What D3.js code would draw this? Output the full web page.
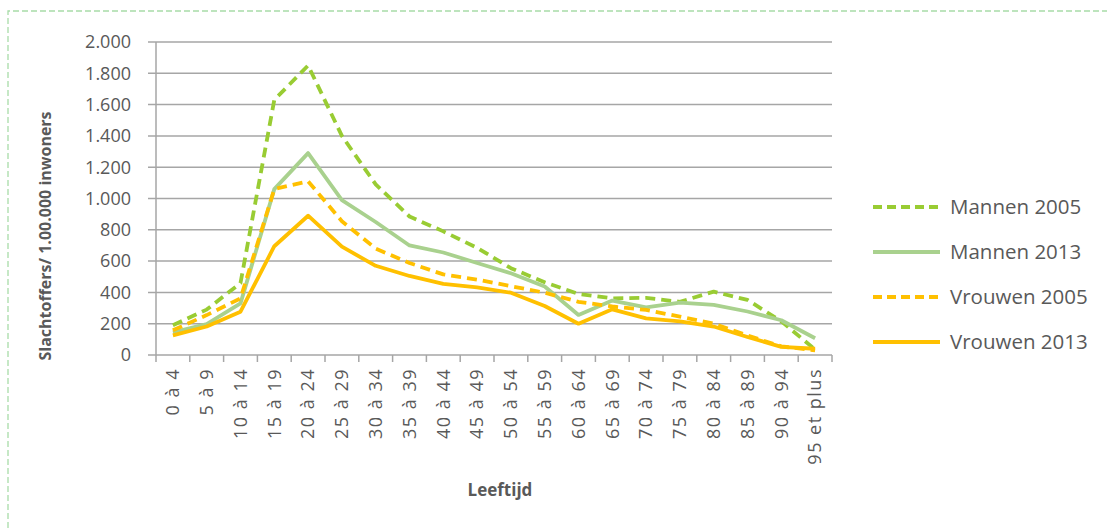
<!DOCTYPE html>
<html>
<head>
<meta charset="utf-8">
<script src="https://d3js.org/d3.v7.min.js"></script>
<style>
  body { margin: 0; background: #fff; }
  text { font-family: "Open Sans", sans-serif; fill: #595959; }
</style>
</head>
<body>
<div id="chart"></div>
<script>
  // age groups on the x axis
  var ageGroups = ["0 à 4", "5 à 9", "10 à 14", "15 à 19", "20 à 24", "25 à 29", "30 à 34",
    "35 à 39", "40 à 44", "45 à 49", "50 à 54", "55 à 59", "60 à 64", "65 à 69", "70 à 74",
    "75 à 79", "80 à 84", "85 à 89", "90 à 94", "95 et plus"];

  // victims per 100.000 inhabitants
  var mannen2005 = [190, 290, 460, 1630, 1850, 1400, 1090, 885, 790, 685, 555, 465, 390, 362, 365, 340, 405, 352, 215, 35];
  var mannen2013 = [145, 198, 330, 1060, 1290, 990, 850, 700, 655, 588, 522, 438, 256, 348, 305, 335, 320, 278, 222, 107];
  var vrouwen2005 = [158, 255, 362, 1060, 1110, 855, 680, 588, 515, 482, 440, 398, 340, 310, 288, 245, 200, 125, 55, 30];
  var vrouwen2013 = [125, 182, 277, 695, 890, 692, 570, 505, 455, 432, 398, 313, 200, 292, 234, 215, 182, 115, 52, 40];

  var yTicks = [0, 200, 400, 600, 800, 1000, 1200, 1400, 1600, 1800, 2000];

  var seriesNames = ["Mannen 2005", "Mannen 2013", "Vrouwen 2005", "Vrouwen 2013"];
  var seriesValues = [mannen2005, mannen2013, vrouwen2005, vrouwen2013];
  var seriesColors = ["#99CC33", "#A9D18E", "#FFC000", "#FFC000"];
  var seriesDash = ["10,6", null, "10,6", null];

  var width = 1107, height = 528;
  var plotLeft = 156, plotRight = 832, plotTop = 42, plotBottom = 355;

  var svg = d3.select("#chart").append("svg")
    .attr("width", width)
    .attr("height", height);

  // dashed frame round the chart (only left and top are in view)
  svg.append("path")
    .attr("d", "M8," + height + " L8,11 L" + width + ",11")
    .attr("fill", "none")
    .attr("stroke", "#A8DCA8")
    .attr("stroke-width", 1.3)
    .attr("stroke-dasharray", "6,3");

  var x = d3.scaleBand().domain(ageGroups).range([plotLeft, plotRight]);
  var y = d3.scaleLinear().domain([0, 2000]).range([plotBottom, plotTop]);

  // gridlines
  svg.append("g")
    .selectAll("line")
    .data(yTicks)
    .join("line")
    .attr("x1", plotLeft - 8)
    .attr("x2", plotRight)
    .attr("y1", function(d) { return y(d); })
    .attr("y2", function(d) { return y(d); })
    .attr("stroke", "#A6A6A6")
    .attr("stroke-width", 1.5);

  // y axis line
  svg.append("line")
    .attr("x1", plotLeft).attr("x2", plotLeft)
    .attr("y1", plotTop).attr("y2", plotBottom)
    .attr("stroke", "#A6A6A6")
    .attr("stroke-width", 1.5);

  // y tick labels
  var fmt = function(d) { return d3.format(",")(d).replace(/,/g, "."); };
  svg.append("g")
    .selectAll("text")
    .data(yTicks)
    .join("text")
    .attr("x", 131)
    .attr("y", function(d) { return y(d); })
    .attr("dy", "0.35em")
    .attr("text-anchor", "end")
    .style("font-size", "18px")
    .text(fmt);

  // x axis ticks
  var edges = ageGroups.map(function(d) { return x(d); }).concat([plotRight]);
  svg.append("g")
    .selectAll("line")
    .data(edges)
    .join("line")
    .attr("x1", function(d) { return d; })
    .attr("x2", function(d) { return d; })
    .attr("y1", plotBottom)
    .attr("y2", plotBottom + 7)
    .attr("stroke", "#A6A6A6")
    .attr("stroke-width", 1.5);

  // x tick labels, rotated
  svg.append("g")
    .selectAll("text")
    .data(ageGroups)
    .join("text")
    .attr("transform", function(d) {
      return "translate(" + (x(d) + x.bandwidth() / 2) + ",368) rotate(-90)";
    })
    .attr("dy", "0.35em")
    .attr("text-anchor", "end")
    .style("font-size", "18px")
    .style("letter-spacing", "1.5px")
    .text(function(d) { return d; });

  // lines
  var line = d3.line()
    .x(function(d, i) { return x(ageGroups[i]) + x.bandwidth() / 2; })
    .y(function(d) { return y(d); });

  seriesValues.forEach(function(vals, i) {
    svg.append("path")
      .datum(vals)
      .attr("d", line)
      .attr("fill", "none")
      .attr("stroke", seriesColors[i])
      .attr("stroke-width", 3.8)
      .attr("stroke-linejoin", "round")
      .attr("stroke-dasharray", seriesDash[i]);
  });

  // axis titles
  svg.append("text")
    .attr("transform", "translate(45,236) rotate(-90)")
    .attr("dy", "0.35em")
    .attr("text-anchor", "middle")
    .style("font-size", "16px")
    .style("font-weight", "bold")
    .text("Slachtoffers/ 1.00.000 inwoners");

  svg.append("text")
    .attr("x", 500)
    .attr("y", 490)
    .attr("dy", "0.35em")
    .attr("text-anchor", "middle")
    .style("font-size", "17px")
    .style("font-weight", "bold")
    .text("Leeftijd");

  // legend
  var legend = svg.append("g")
    .selectAll("g")
    .data(seriesNames)
    .join("g")
    .attr("transform", function(d, i) { return "translate(873," + (207 + i * 45) + ")"; });

  legend.append("line")
    .attr("x1", 0).attr("x2", 67)
    .attr("stroke", function(d, i) { return seriesColors[i]; })
    .attr("stroke-width", 3.8)
    .attr("stroke-dasharray", function(d, i) { return seriesDash[i] ? "9,5" : null; });

  legend.append("text")
    .attr("x", 77)
    .attr("dy", "0.35em")
    .style("font-size", "20.5px")
    .text(function(d) { return d; });
</script>
</body>
</html>
